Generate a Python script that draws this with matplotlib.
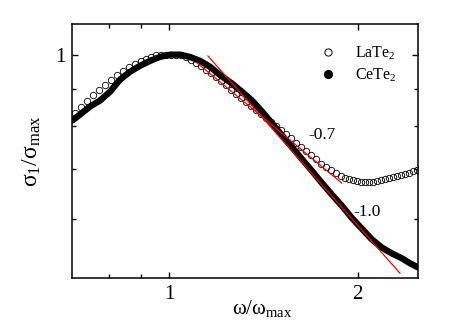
import matplotlib
matplotlib.use("Agg")
import matplotlib.pyplot as plt
from matplotlib.lines import Line2D
from matplotlib.ticker import FixedLocator, NullFormatter, FixedFormatter

plt.rcParams['font.family'] = ['Liberation Serif', 'DejaVu Serif']
plt.rcParams['mathtext.fontset'] = 'custom'
plt.rcParams['mathtext.rm'] = 'Liberation Serif'
plt.rcParams['mathtext.it'] = 'Liberation Serif:italic'

# LaTe2 open circles (omega/omega_max, sigma1/sigma_max)
lat_w = [0.707, 0.723, 0.739, 0.755, 0.772, 0.789, 0.807, 0.825, 0.843, 0.862,
         0.881, 0.901, 0.918, 0.935, 0.952, 0.970, 0.988, 1.006, 1.025, 1.044,
         1.064, 1.083, 1.103, 1.124, 1.145, 1.166, 1.188, 1.210, 1.232, 1.255,
         1.278, 1.302, 1.326, 1.351, 1.376, 1.401, 1.427, 1.454, 1.481, 1.508,
         1.536, 1.565, 1.594, 1.623, 1.654, 1.684, 1.716, 1.747, 1.780, 1.813,
         1.846, 1.881, 1.909, 1.937, 1.966, 1.995, 2.024, 2.054, 2.085, 2.116,
         2.147, 2.179, 2.211, 2.244, 2.277, 2.311, 2.345, 2.380, 2.415, 2.451, 2.487]
lat_s = [0.833, 0.849, 0.867, 0.881, 0.895, 0.910, 0.924, 0.939, 0.951, 0.961,
         0.972, 0.982, 0.988, 0.994, 0.998, 1.000, 1.000, 1.000, 1.000, 1.000,
         0.992, 0.984, 0.974, 0.964, 0.954, 0.944, 0.932, 0.921, 0.910, 0.897,
         0.886, 0.874, 0.864, 0.853, 0.842, 0.831, 0.821, 0.811, 0.801, 0.791,
         0.781, 0.771, 0.761, 0.751, 0.742, 0.732, 0.723, 0.713, 0.706, 0.698,
         0.692, 0.686, 0.682, 0.679, 0.677, 0.675, 0.674, 0.673, 0.673, 0.674,
         0.675, 0.677, 0.679, 0.681, 0.683, 0.686, 0.688, 0.690, 0.693, 0.696, 0.699]

# CeTe2 thick black curve
ce_w = [0.700, 0.720, 0.747, 0.775, 0.804, 0.834, 0.865, 0.898, 0.932, 0.966,
        1.003, 1.040, 1.079, 1.120, 1.162, 1.205, 1.260, 1.307, 1.356, 1.407,
        1.459, 1.514, 1.571, 1.629, 1.690, 1.754, 1.820, 1.888, 1.958, 2.032,
        2.108, 2.187, 2.270, 2.354, 2.424, 2.500]
ce_s = [0.815, 0.830, 0.851, 0.867, 0.891, 0.925, 0.948, 0.966, 0.981, 0.993,
        1.000, 1.000, 0.993, 0.981, 0.963, 0.939, 0.914, 0.891, 0.867, 0.838,
        0.808, 0.778, 0.750, 0.723, 0.697, 0.671, 0.647, 0.625, 0.602, 0.582,
        0.563, 0.549, 0.539, 0.531, 0.523, 0.516]

# power-law guide lines (end points)
fit07_w = [1.106, 1.886]
fit07_s = [0.976, 0.671]
fit10_w = [1.153, 2.337]
fit10_s = [0.996, 0.507]

fig = plt.figure(figsize=(4.64, 3.34), dpi=100)
ax = fig.add_axes([0.1558, 0.1686, 0.7457, 0.7595])

ax.plot(ce_w, ce_s, '-', color='black', lw=4.6, solid_capstyle='round')
ax.plot(lat_w, lat_s, 'o', mfc='none', mec='black', ms=4.6, mew=0.6)
ax.plot(fit07_w, fit07_s, '-', color='red', lw=0.9)
ax.plot(fit10_w, fit10_s, '-', color='red', lw=0.9)

ax.set_xscale('log')
ax.set_yscale('log')
ax.set_xlim(0.7, 2.5)
ax.set_ylim(0.5, 1.1)

ax.xaxis.set_major_locator(FixedLocator([1, 2]))
ax.xaxis.set_major_formatter(FixedFormatter(['1', '2']))
ax.xaxis.set_minor_locator(FixedLocator([0.8, 0.9]))
ax.xaxis.set_minor_formatter(NullFormatter())
ax.yaxis.set_major_locator(FixedLocator([1]))
ax.yaxis.set_major_formatter(FixedFormatter(['1']))
ax.yaxis.set_minor_locator(FixedLocator([0.6, 0.7, 0.8, 0.9]))
ax.yaxis.set_minor_formatter(NullFormatter())

ax.tick_params(which='both', direction='in', top=True, right=True, width=1.0)
ax.tick_params(which='major', length=4, labelsize=15, pad=5)
ax.tick_params(which='minor', length=3)
for s in ax.spines.values():
    s.set_linewidth(1.1)

ax.text(1.754, 0.778, '-0.7', fontsize=12.5, ha='center', va='center')
ax.text(2.069, 0.614, '-1.0', fontsize=12.5, ha='center', va='center')

ax.set_xlabel(r'ω/ω$_{\rm max}$', fontsize=15)
ax.xaxis.set_label_coords(0.55, -0.08, transform=ax.transAxes)
ax.xaxis.label.set_va('top')
ax.set_ylabel(r'σ$_1$/σ$_{\rm max}$', fontsize=17)
ax.yaxis.set_label_coords(-0.085, 0.5, transform=ax.transAxes)

open_h = Line2D([], [], ls='none', marker='o', mfc='none', mec='black', ms=5.2, mew=0.7)
fill_h = Line2D([], [], ls='none', marker='o', mfc='black', mec='black', ms=5.6)
ax.legend([open_h, fill_h], ['LaTe$_2$', 'CeTe$_2$'], loc='upper left',
          bbox_to_anchor=(0.715, 0.92), frameon=False, fontsize=11.5,
          handlelength=1.0, handletextpad=1.2, labelspacing=0.3,
          borderpad=0, borderaxespad=0)

fig.savefig('out.png', dpi=100)
